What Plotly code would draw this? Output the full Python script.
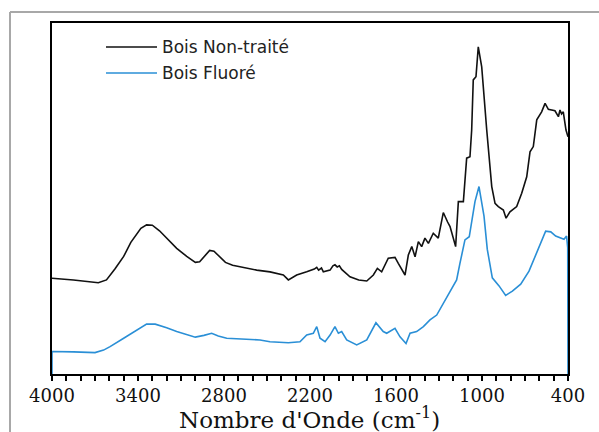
import plotly.graph_objects as go

# Wavenumbers (cm-1) and relative absorbance (arbitrary units)
wn_black = [4000, 3850, 3677, 3620, 3560, 3500, 3450, 3380, 3340, 3300, 3250, 3190, 3130, 3060,
            3000, 2970, 2930, 2900, 2870, 2830, 2790, 2740,
            2572, 2479, 2386, 2351, 2293, 2223, 2170, 2153, 2140, 2120, 2107, 2060, 2040, 2026,
            2010, 1995, 1979, 1921, 1860, 1804, 1758, 1730, 1700, 1654, 1607, 1584, 1537, 1514,
            1490, 1467, 1444, 1421, 1398, 1374, 1340, 1305, 1270, 1240, 1223, 1184, 1165, 1130,
            1107, 1084, 1072, 1061, 1042, 1026, 1002, 967, 932, 909, 886, 851, 832, 805, 758,
            723, 688, 665, 642, 618, 584, 560, 537, 491, 467, 456, 445, 433, 414, 400]
abs_black = [27.3, 26.8, 26.0, 26.8, 30.0, 33.5, 37.5, 41.5, 42.5, 42.4, 40.8, 38.2, 35.8, 33.5,
             31.8, 32.0, 34.0, 35.2, 35.0, 33.5, 31.8, 31.0,
             29.6, 29.1, 28.2, 26.8, 28.2, 29.1, 29.9, 30.4, 29.6, 30.2, 29.1, 29.6, 30.8, 31.1,
             30.5, 30.8, 29.8, 27.7, 26.8, 26.5, 28.2, 30.1, 29.1, 33.0, 33.2, 31.5, 28.2, 33.9,
             36.3, 33.4, 37.7, 36.3, 38.7, 37.2, 40.1, 38.7, 46.0, 43.3, 42.0, 36.3, 49.1, 49.1,
             61.5, 61.9, 69.5, 83.8, 84.7, 93.2, 87.5, 69.5, 53.4, 48.6, 47.7, 46.7, 44.4, 46.2, 47.7,
             51.5, 56.2, 63.3, 64.8, 72.4, 74.7, 77.1, 75.4, 75.0, 73.3, 75.2, 74.1, 74.7, 69.5, 67.6]

wn_blue = [4000, 4000, 3850, 3700, 3640, 3595, 3500, 3400, 3340, 3280, 3200, 3130, 3050, 3000,
           2940, 2886, 2840, 2781, 2549,
           2479, 2351, 2270, 2223, 2177, 2153, 2130, 2095, 2060, 2026, 2002, 1979, 1944, 1874,
           1804, 1740, 1689, 1665, 1607, 1572, 1530, 1502, 1456, 1409, 1363, 1316, 1270, 1223,
           1177, 1154, 1119, 1089, 1068, 1049, 1021, 986, 963, 928, 881, 835, 788, 730, 672,
           614, 556, 520, 486, 428, 410, 402, 400]
abs_blue = [0, 6.4, 6.3, 6.1, 6.8, 7.8, 10.2, 12.8, 14.2, 14.2, 13.2, 12.1, 11.0, 10.5,
            11.0, 11.6, 10.8, 10.2, 9.7,
            9.2, 8.9, 9.2, 11.1, 11.6, 13.5, 10.2, 9.2, 11.1, 13.5, 11.6, 12.1, 9.7, 8.3,
            9.7, 14.6, 12.1, 11.6, 13.0, 10.6, 8.7, 11.6, 12.1, 13.5, 15.4, 16.8, 20.1, 23.9,
            26.8, 31.5, 38.2, 39.1, 45.0, 49.1, 53.4, 45.0, 35.5, 27.4, 25.1, 22.4, 23.6, 25.6, 29.3,
            35.0, 40.7, 40.5, 39.3, 38.4, 39.3, 36.0, 0]

series_names = ["Bois Non-traité", "Bois Fluoré"]
series_colors = ["#111111", "#2a8fd6"]
x_title = "Nombre d'Onde (cm<sup>-1</sup>)"

tick_vals = list(range(400, 4001, 100))
tick_labels = ["4000", "3400", "2800", "2200", "1600", "1000", "400"]
tick_text = [str(v) if str(v) in tick_labels else "" for v in tick_vals]

fig = go.Figure()
fig.add_trace(go.Scatter(x=wn_black, y=abs_black, mode="lines", name=series_names[0],
                         line=dict(color=series_colors[0], width=1.6), showlegend=False))
fig.add_trace(go.Scatter(x=wn_blue, y=abs_blue, mode="lines", name=series_names[1],
                         line=dict(color=series_colors[1], width=1.6), showlegend=False))

# legend drawn as shapes + text
W, H, L, B = 516, 351, 52, 374
def px(x):
    return (x - L) / W
def py(y):
    return (B - y) / H

for i, (nm, col) in enumerate(zip(series_names, series_colors)):
    yy = py(47 + i * 26)
    fig.add_shape(type="line", xref="paper", yref="paper", x0=px(106), x1=px(157), y0=yy, y1=yy,
                  line=dict(color=col, width=1.5))
    fig.add_annotation(xref="paper", yref="paper", x=px(160), y=yy, text=nm, showarrow=False,
                       xanchor="left", yanchor="middle",
                       font=dict(family="DejaVu Sans", size=17, color="#222222"))

# x-axis title
fig.add_annotation(xref="paper", yref="paper", x=px(309), y=py(418), text=x_title, showarrow=False,
                   xanchor="center", yanchor="middle",
                   font=dict(family="DejaVu Serif", size=23, color="#111111"))

# outer grey frame
fig.add_shape(type="line", xref="paper", yref="paper", x0=px(10), x1=px(10), y0=py(12), y1=py(440),
              line=dict(color="#a8a8a8", width=2))
fig.add_shape(type="line", xref="paper", yref="paper", x0=px(10), x1=px(610), y0=py(12), y1=py(12),
              line=dict(color="#a8a8a8", width=2))

fig.update_layout(
    width=599, height=432,
    margin=dict(l=52, r=31, t=23, b=58, autoexpand=False),
    paper_bgcolor="white", plot_bgcolor="white",
    xaxis=dict(range=[4000, 400], tickvals=tick_vals, ticktext=tick_text,
               ticks="outside", ticklen=5, tickwidth=1.5, tickcolor="black",
               showline=True, linecolor="black", linewidth=1.5, mirror=True,
               showgrid=False, zeroline=False, ticklabelstandoff=0, automargin=False,
               tickfont=dict(family="DejaVu Serif", size=18, color="#111111")),
    yaxis=dict(range=[0, 100], showticklabels=False, ticks="", showgrid=False, zeroline=False,
               showline=True, linecolor="black", linewidth=1.5, mirror=True, automargin=False),
)

fig.write_html("out.html", post_script="document.body.style.margin='0';",
               config={"displayModeBar": False})
